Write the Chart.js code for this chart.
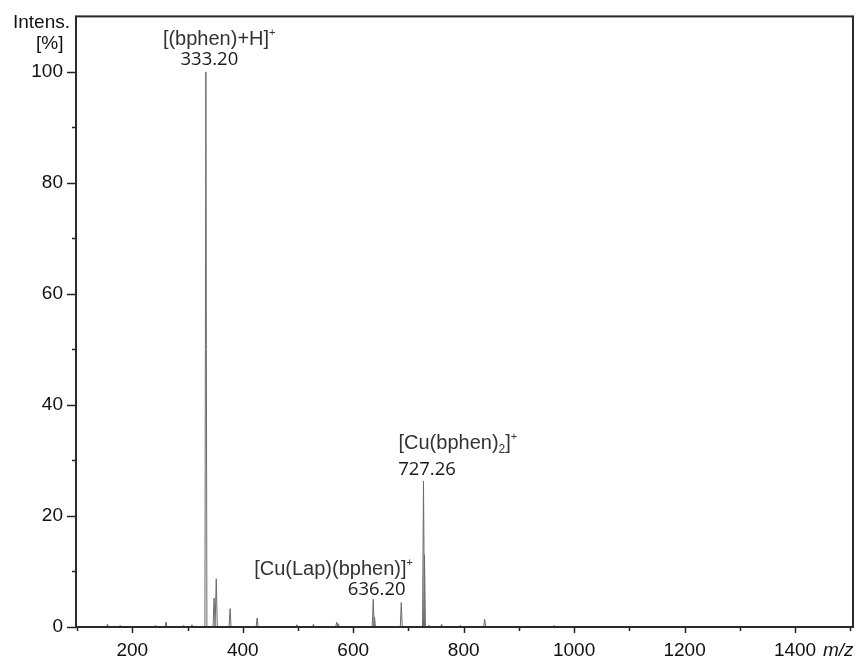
<!DOCTYPE html>
<html>
<head>
<meta charset="utf-8">
<title>ESI-MS spectrum</title>
<script src="https://cdn.jsdelivr.net/npm/chart.js@4.4.1/dist/chart.umd.min.js"></script>
<style>
  html, body { margin: 0; padding: 0; background: #fff; }
  #ms { display: block; }
</style>
</head>
<body>
<canvas id="ms" width="859" height="660"></canvas>
<script>
// ── Peak list: m/z and relative intensity (%) ──
var peakMz = [155, 178, 242, 261, 293, 308, 333.20, 348, 352, 377, 426, 498, 528,
  570, 573, 636.20, 638.5, 687, 727.26, 729, 737, 760, 794, 838, 964];
var peakInt = [0.5, 0.3, 0.3, 0.9, 0.3, 0.4, 100, 5.2, 8.7, 3.3, 1.6, 0.4, 0.5,
  0.9, 0.6, 5.0, 1.8, 4.4, 26.3, 13.0, 0.3, 0.5, 0.3, 1.4, 0.3];

// ── Assigned ions ( _x = subscript, ^x = superscript ) ──
var ionNames = ["[(bphen)+H]^+", "[Cu(Lap)(bphen)]^+", "[Cu(bphen)_2]^+"];
var ionMz = [333.20, 636.20, 727.26];
var ionInt = [100, 5.0, 26.3];

// ── Axis ticks (labelled); minor ticks fall halfway between ──
var xTicks = [200, 400, 600, 800, 1000, 1200, 1400];
var yTicks = [0, 20, 40, 60, 80, 100];

// label placement (px): name left offset from peak, gaps above peak top
var nameDx = [-43, -119, -25];
var numGap = [7, 4, 6];
var nameGap = [20, 20, 26];

(function () {
  "use strict";

  var HALF_WIDTH = 1.8; // peak half-width at base, m/z units
  var SANS = "'Liberation Sans', Arial, sans-serif";

  // each peak drawn as a narrow profile rising from the baseline
  var profile = [];
  peakMz.forEach(function (mz, i) {
    profile.push({ x: mz - HALF_WIDTH, y: 0 });
    profile.push({ x: mz, y: peakInt[i] });
    profile.push({ x: mz + HALF_WIDTH, y: 0 });
  });

  // labelled ticks plus the minor ones between them
  function withMinor(major) {
    var step = (major[1] - major[0]) / 2;
    var out = [];
    for (var v = major[0] - step; v <= major[major.length - 1] + step; v += step) {
      out.push({ value: v });
    }
    return out;
  }

  function drawRich(ctx, str, x, y) {
    var i = 0;
    while (i < str.length) {
      var ch = str[i];
      if (ch === "_" || ch === "^") {
        var c = str[i + 1];
        ctx.font = (ch === "_" ? "12px " : "11px ") + SANS;
        ctx.fillText(c, x, ch === "_" ? y + 4 : y - 9);
        x += ctx.measureText(c).width;
        i += 2;
      } else {
        ctx.font = "20px " + SANS;
        ctx.fillText(ch, x, y);
        x += ctx.measureText(ch).width;
        i += 1;
      }
    }
  }

  var framePlugin = {
    id: "frame",
    afterDraw: function (chart) {
      var ctx = chart.ctx;
      var a = chart.chartArea;
      var xs = chart.scales.x;
      var ys = chart.scales.y;
      ctx.save();

      // tick marks: long at labelled values, short in between
      ctx.strokeStyle = "#222";
      ctx.lineWidth = 1.5;
      ctx.beginPath();
      xs.ticks.forEach(function (t) {
        if (t.value <= xs.min || t.value >= xs.max) return;
        var px = Math.round(xs.getPixelForValue(t.value)) + 0.5;
        var len = xTicks.indexOf(t.value) >= 0 ? 6 : 4;
        ctx.moveTo(px, a.bottom);
        ctx.lineTo(px, a.bottom + len);
      });
      ys.ticks.forEach(function (t) {
        if (t.value >= ys.max) return;
        var py = Math.round(ys.getPixelForValue(t.value)) + 0.5;
        var len = yTicks.indexOf(t.value) >= 0 ? 9 : 4;
        ctx.moveTo(a.left, py);
        ctx.lineTo(a.left - len, py);
      });
      ctx.stroke();

      // plot box
      ctx.lineWidth = 2;
      ctx.strokeStyle = "#2a2a2a";
      ctx.strokeRect(a.left, a.top, a.right - a.left, a.bottom - a.top);

      // axis titles
      ctx.fillStyle = "#111";
      ctx.textBaseline = "alphabetic";
      ctx.textAlign = "left";
      ctx.font = "19px " + SANS;
      ctx.fillText("Intens.", 13, 28);
      ctx.fillText("[%]", 36, 49);
      ctx.font = "italic 19px " + SANS;
      ctx.fillText("m/z", 823, 656);

      // ion annotations
      ionMz.forEach(function (mz, i) {
        var px = xs.getPixelForValue(mz);
        var top = ys.getPixelForValue(ionInt[i]);
        var numY = top - numGap[i];
        ctx.fillStyle = "#1a1a1a";
        ctx.textAlign = "center";
        ctx.font = "18.5px 'Open Sans', sans-serif";
        ctx.fillText(mz.toFixed(2), px + 3.5, numY);
        ctx.fillStyle = "#333";
        ctx.textAlign = "left";
        drawRich(ctx, ionNames[i], px + nameDx[i], numY - nameGap[i]);
      });

      ctx.restore();
    },
  };

  var tickFont = { family: SANS, size: 19 };

  new Chart(document.getElementById("ms"), {
    type: "line",
    data: {
      datasets: [
        {
          data: profile,
          borderColor: "#6a6a6a",
          borderWidth: 1,
          pointRadius: 0,
          tension: 0,
          fill: false,
        },
      ],
    },
    options: {
      responsive: false,
      animation: false,
      layout: { padding: { top: 13, right: 6, left: 0, bottom: 0 } },
      plugins: { legend: { display: false }, tooltip: { enabled: false } },
      scales: {
        x: {
          type: "linear",
          min: 98,
          max: 1505,
          afterBuildTicks: function (s) { s.ticks = withMinor(xTicks); },
          afterFit: function (s) { s.height = 33; },
          ticks: {
            autoSkip: false,
            maxRotation: 0,
            padding: 6,
            color: "#111",
            font: tickFont,
            callback: function (v) { return xTicks.indexOf(v) >= 0 ? String(v) : ""; },
          },
          grid: { drawOnChartArea: false, drawTicks: true, tickLength: 6, color: "rgba(0,0,0,0)" },
          border: { display: false },
        },
        y: {
          min: 0,
          max: 110,
          afterBuildTicks: function (s) { s.ticks = withMinor(yTicks).filter(function (t) { return t.value >= 0; }); },
          afterFit: function (s) { s.width = 76; },
          ticks: {
            autoSkip: false,
            padding: 5,
            color: "#111",
            font: tickFont,
            callback: function (v) { return yTicks.indexOf(v) >= 0 ? String(v) : ""; },
          },
          grid: { drawOnChartArea: false, drawTicks: true, tickLength: 8, color: "rgba(0,0,0,0)" },
          border: { display: false },
        },
      },
    },
    plugins: [framePlugin],
  });
})();
</script>
</body>
</html>
